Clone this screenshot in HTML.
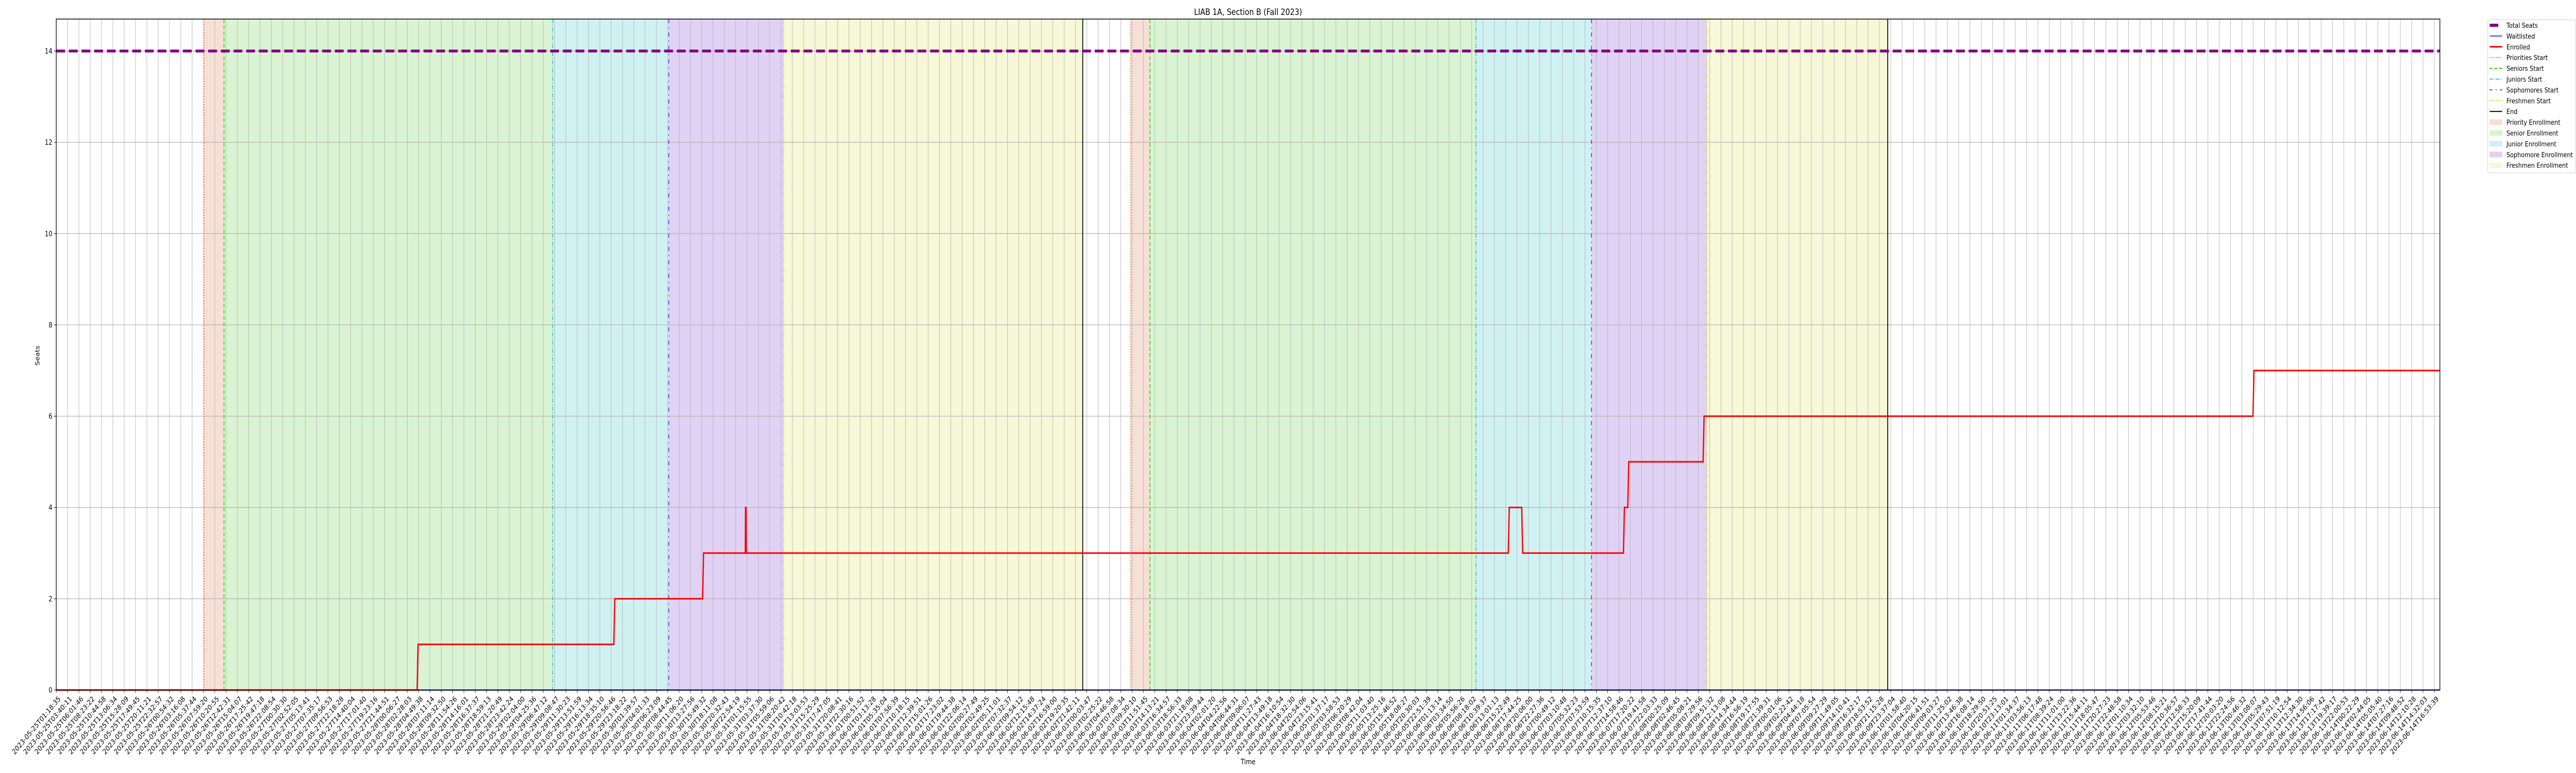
<!DOCTYPE html>
<html><head><meta charset="utf-8">
<style>
html,body{margin:0;padding:0;background:#fff;width:100%;height:100%;overflow:hidden;}
svg{display:block;width:100vw;height:100vh;font-family:"DejaVu Sans","Liberation Sans",sans-serif;}
</style></head>
<body>
<svg id="chart" viewBox="0 0 6000 1500" preserveAspectRatio="none" xmlns="http://www.w3.org/2000/svg">
<rect x="0" y="0" width="6000" height="1500" fill="#fff"/>
<g id="spans"></g>
<g id="grid"></g>
<g id="vlines"></g>
<g id="series"></g>
<g id="axes"></g>
<text x="2907" y="29" font-size="17" text-anchor="middle">LIAB 1A, Section B (Fall 2023)</text>
<text x="2907" y="1483" font-size="14" text-anchor="middle">Time</text>
<text x="0" y="0" font-size="14" text-anchor="middle" transform="translate(92,690) rotate(-90)">Seats</text>
<g id="legend"></g>
</svg>
<script>
// ---- data (x in hours since 2023-05-25T01:18:35) ----
const tickStartISO = "2023-05-25T01:18:35";
const tickEndISO = "2023-06-14T16:53:39";
const tickIntervals = 210;
const yTicks = [0, 2, 4, 6, 8, 10, 12, 14];
const totalSeats = 14;
const enrolledX = [0, 75.2, 75.4, 116.2, 116.4, 134.7, 134.9, 143.6, 143.65, 143.75, 143.8, 302.6, 302.8, 305.4, 305.6, 326.6, 326.8, 327.5, 327.7, 343.2, 343.4, 457.8, 458.0, 496.75];
const enrolledY = [0, 0, 1, 1, 2, 2, 3, 3, 4, 4, 3, 3, 4, 4, 3, 3, 4, 4, 5, 5, 6, 6, 7, 7];
const waitlistX = [0, 496.75];
const waitlistY = [0, 0];
const priorityStarts = [30.83, 223.91];
const seniorStarts = [34.96, 227.92];
const juniorStarts = [103.43, 295.87];
const sophStarts = [127.64, 319.94];
const freshStarts = [151.60, 343.98];
const endTimes = [213.92, 381.68];

// ---- layout ----
const L = 131, R = 5683, T = 37, B = 1339;
const xMax = 496.75, yMax = 14.7;
const pxPerHour = (5670 - L) / 495.583;
function X(h){ return L + h * pxPerHour; }
function Y(v){ return B - v / yMax * (B - T); }
const NS = "http://www.w3.org/2000/svg";
function mk(tag, attrs, parent){
  const e = document.createElementNS(NS, tag);
  for (const k in attrs) e.setAttribute(k, attrs[k]);
  parent.appendChild(e);
  return e;
}
const spans = document.getElementById('spans');
const grid = document.getElementById('grid');
const vlines = document.getElementById('vlines');
const series = document.getElementById('series');
const axes = document.getElementById('axes');
const legend = document.getElementById('legend');

const spanDefs = [
  [priorityStarts, seniorStarts, '#f6e0d6', 'priority-enrollment-span'],
  [seniorStarts, juniorStarts, '#daf4d3', 'senior-enrollment-span'],
  [juniorStarts, sophStarts, '#d0f1f2', 'junior-enrollment-span'],
  [sophStarts, freshStarts, '#e0d2f5', 'sophomore-enrollment-span'],
  [freshStarts, endTimes, '#f7f8d8', 'freshmen-enrollment-span']
];
spanDefs.forEach(d => {
  for (let i = 0; i < d[0].length; i++) {
    const r = mk('rect', {x: X(d[0][i]), y: T, width: X(d[1][i]) - X(d[0][i]), height: B - T, fill: d[2]}, spans);
    
    
  }
});

const t0 = Date.parse(tickStartISO + "Z"), t1 = Date.parse(tickEndISO + "Z");
function pad(n){ return String(n).padStart(2, '0'); }
for (let i = 0; i <= tickIntervals; i++) {
  const t = t0 + (t1 - t0) * i / tickIntervals;
  const h = (t - t0) / 3600000;
  const x = X(h);
  const gl = mk('line', {x1: x, x2: x, y1: T, y2: B, stroke: '#b0b0b0', 'stroke-width': 1}, grid);
  
  
  const tk = mk('line', {x1: x, x2: x, y1: B, y2: B + 5, stroke: '#000', 'stroke-width': 1}, axes);
  
  
  const d = new Date(Math.round(t / 1000) * 1000);
  const lab = d.getUTCFullYear() + '-' + pad(d.getUTCMonth() + 1) + '-' + pad(d.getUTCDate()) + 'T' + pad(d.getUTCHours()) + ':' + pad(d.getUTCMinutes()) + ':' + pad(d.getUTCSeconds());
  const tx = mk('text', {x: 0, y: 0, 'font-size': 14, 'text-anchor': 'end', dy: '0.7em', transform: 'translate(' + (x + 4) + ',' + (B + 11) + ') rotate(-45)'}, axes);
  tx.textContent = lab;
  
  
}
yTicks.forEach(v => {
  const y = Y(v);
  const gl = mk('line', {x1: L, x2: R, y1: y, y2: y, stroke: '#b0b0b0', 'stroke-width': 1.2}, grid);
  
  
  const tk = mk('line', {x1: L - 5, x2: L, y1: y, y2: y, stroke: '#000', 'stroke-width': 1}, axes);
  
  
  const tx = mk('text', {x: L - 9, y: y + 5, 'font-size': 14, 'text-anchor': 'end'}, axes);
  tx.textContent = String(v);
  
  
});

const vDefs = [
  [priorityStarts, '#ee6a3a', '2,3', 1.8, 'priorities-start-line'],
  [seniorStarts, '#33cc11', '8,4', 1.8, 'seniors-start-line'],
  [juniorStarts, '#1fc3cc', '8,3,2,3', 1.8, 'juniors-start-line'],
  [sophStarts, '#6a2be0', '8,8,2,8', 1.8, 'sophomores-start-line'],
  [freshStarts, '#e0e030', '8,3,2,3,2,3', 1.8, 'freshmen-start-line'],
  [endTimes, '#000000', 'none', 2, 'end-line']
];
vDefs.forEach(d => {
  d[0].forEach(h => {
    const l = mk('line', {x1: X(h), x2: X(h), y1: T, y2: B, stroke: d[1], 'stroke-width': d[3], 'stroke-dasharray': d[2]}, vlines);
    
    
  });
});

const ts = mk('line', {x1: L, x2: R, y1: Y(totalSeats), y2: Y(totalSeats), stroke: '#800080', 'stroke-width': 5.5, 'stroke-dasharray': '20.5,9'}, series);


function pts(xs, ys){ return xs.map((x, i) => X(x).toFixed(2) + ',' + Y(ys[i]).toFixed(2)).join(' '); }
const wl = mk('polyline', {points: pts(waitlistX, waitlistY), fill: 'none', stroke: '#0000ff', 'stroke-width': 2.2}, series);


const en = mk('polyline', {points: pts(enrolledX, enrolledY), fill: 'none', stroke: '#ff0000', 'stroke-width': 3, 'stroke-linejoin': 'miter'}, series);



const fr = mk('rect', {x: L, y: T, width: R - L, height: B - T, fill: 'none', stroke: '#000', 'stroke-width': 1.5}, axes);



const lb = mk('rect', {x: 5794.5, y: 38.5, width: 205, height: 297, fill: '#fff', 'fill-opacity': 0.8, stroke: '#d0d0d0', 'stroke-width': 1, rx: 3}, legend);


const legItems = [
  ['line', '#800080', 6, 'none', 'Total Seats', 20],
  ['line', '#0000ff', 1.5, 'none', 'Waitlisted', 29],
  ['line', '#ff0000', 3, 'none', 'Enrolled', 29],
  ['line', '#ee6a3a', 2, '2,3', 'Priorities Start', 29],
  ['line', '#33cc11', 2, '7,4', 'Seniors Start', 29],
  ['line', '#1fc3cc', 2, '7,3,2,3', 'Juniors Start', 29],
  ['line', '#6a2be0', 2, '6,8,2,8', 'Sophomores Start', 29],
  ['line', '#e0e030', 2, '6,2,2,2,2,2', 'Freshmen Start', 29],
  ['line', '#000000', 2, 'none', 'End', 29],
  ['patch', '#f6e0d6', 0, 'none', 'Priority Enrollment', 29],
  ['patch', '#daf4d3', 0, 'none', 'Senior Enrollment', 29],
  ['patch', '#d0f1f2', 0, 'none', 'Junior Enrollment', 29],
  ['patch', '#e0d2f5', 0, 'none', 'Sophomore Enrollment', 29],
  ['patch', '#f7f8d8', 0, 'none', 'Freshmen Enrollment', 29]
];
legItems.forEach((it, i) => {
  const cy = 49 + i * 20.9;
  const g = mk('g', {}, legend);
  
  
  if (it[0] === 'line') {
    mk('line', {x1: 5799, x2: 5799 + it[5], y1: cy, y2: cy, stroke: it[1], 'stroke-width': it[2], 'stroke-dasharray': it[3]}, g);
  } else {
    mk('rect', {x: 5799, y: cy - 5, width: 29, height: 10, fill: it[1], stroke: it[1], 'stroke-width': 1}, g);
  }
  const t = mk('text', {x: 5838, y: cy + 5, 'font-size': 13.5}, g);
  t.textContent = it[4];
});
</script>
</body></html>
